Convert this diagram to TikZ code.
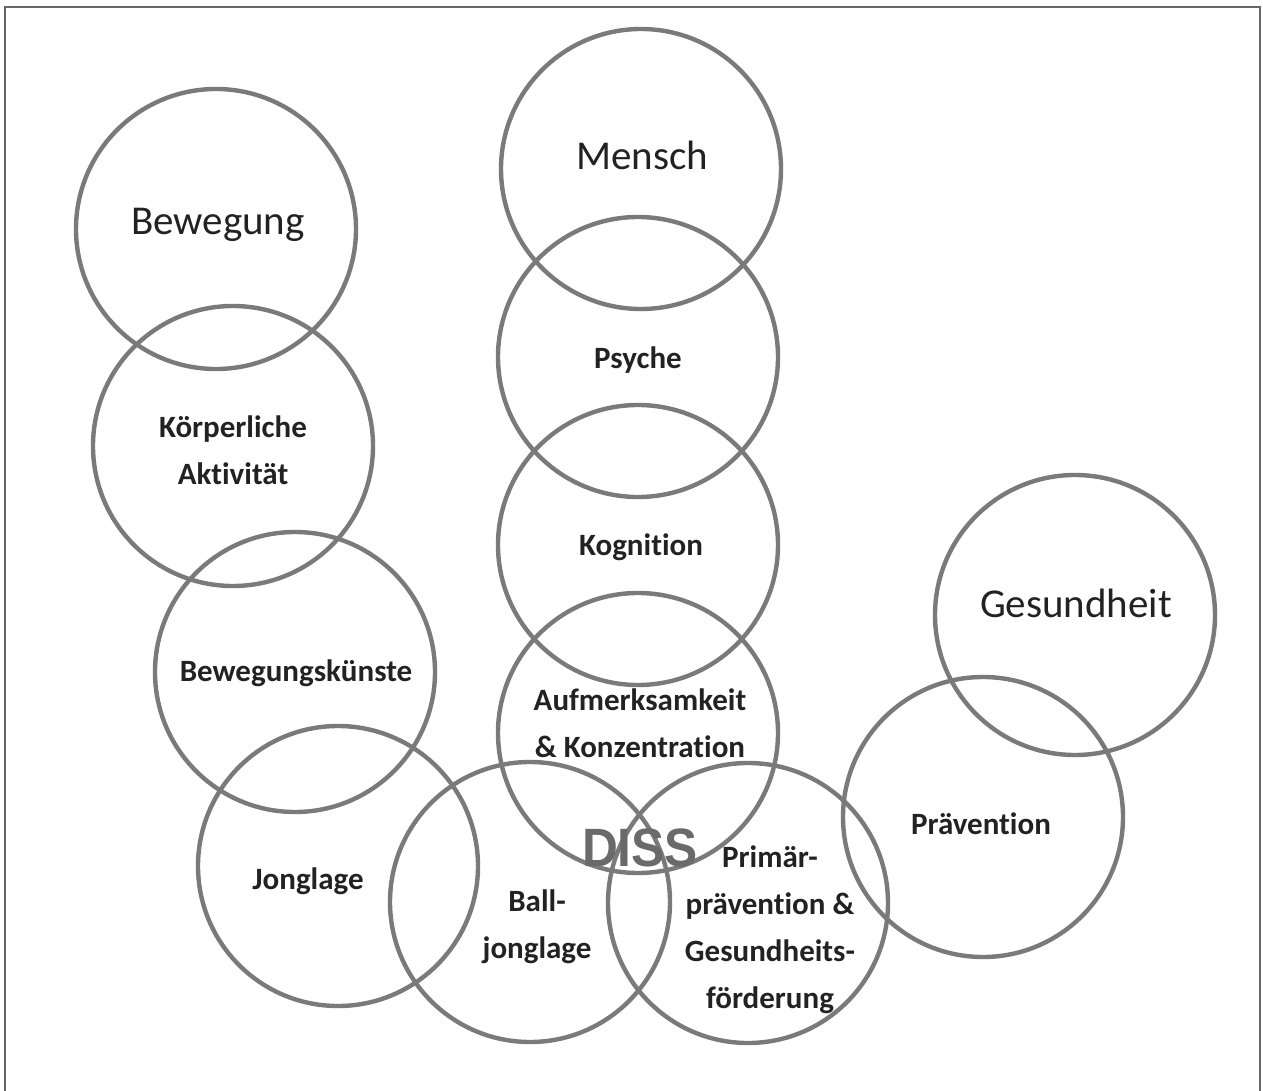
\documentclass[tikz,border=0pt]{standalone}
\usepackage{fontspec}
\setmainfont{Carlito}[RawFeature={-liga}]
\newfontfamily\dissfont{Liberation Sans}
\definecolor{ringgray}{HTML}{7A7A7A}
\definecolor{txt}{HTML}{222222}
\definecolor{frame}{HTML}{666666}
\definecolor{dissgray}{HTML}{6A6A6A}
\begin{document}
\begin{tikzpicture}[x=1pt,y=-1pt,
  ring/.style={draw=ringgray,line width=4.4pt,circle,minimum size=280pt,inner sep=0pt},
  bigtxt/.style={text=txt,font=\fontsize{41}{46}\selectfont,inner sep=0pt},
  smalltxt/.style={text=txt,font=\bfseries\fontsize{31}{47}\selectfont,align=center,inner sep=0pt}]
\useasboundingbox (0,0) rectangle (1263,1091);
\draw[frame,line width=2pt] (5,1095) -- (5,7) -- (1260,7) -- (1260,1095);
% left column
\node[ring] (bew) at (216,229) {};
\node[ring] (koerp) at (233,446) {};
\node[ring] (bewk) at (295,672) {};
\node[ring] (jong) at (338,866) {};
\node[ring] (ball) at (530,902) {};
% middle column
\node[ring] (mensch) at (641,169) {};
\node[ring] (psyche) at (638,357) {};
\node[ring] (kogn) at (638,545) {};
\node[ring] (aufm) at (638,733) {};
\node[ring] (prim) at (748,903) {};
% right
\node[ring] (praev) at (983,817) {};
\node[ring] (ges) at (1075,615) {};
% texts
\node[bigtxt] (bew-t) at (218,225) {Bewegung};
\node[bigtxt] (mensch-t) at (642,155) {Mensch};
\node[bigtxt] (ges-t) at (1076,603) {Gesundheit};
\node[smalltxt] (koerp-t) at (233,450) {Körperliche\\Aktivität};
\node[smalltxt] (psyche-t) at (638,360) {Psyche};
\node[smalltxt] (kogn-t) at (641,547) {Kognition};
\node[smalltxt] (bewk-t) at (296,673) {Bewegungskünste};
\node[smalltxt] (aufm-t) at (640,723) {Aufmerksamkeit\\\& Konzentration};
\node[smalltxt] (praev-t) at (981,824) {Prävention};
\node[smalltxt] (jong-t) at (308,881) {Jonglage};
\node[smalltxt] (ball-t) at (537,927) {Ball-\\jonglage};
\node[smalltxt] (prim-t) at (770,930) {Primär-\\prävention \&\\Gesundheits-\\förderung};
\node[text=dissgray,font=\dissfont\bfseries\fontsize{54}{58}\selectfont,inner sep=0pt,xscale=0.92] (diss) at (640,848) {DISS};
\end{tikzpicture}
\end{document}
